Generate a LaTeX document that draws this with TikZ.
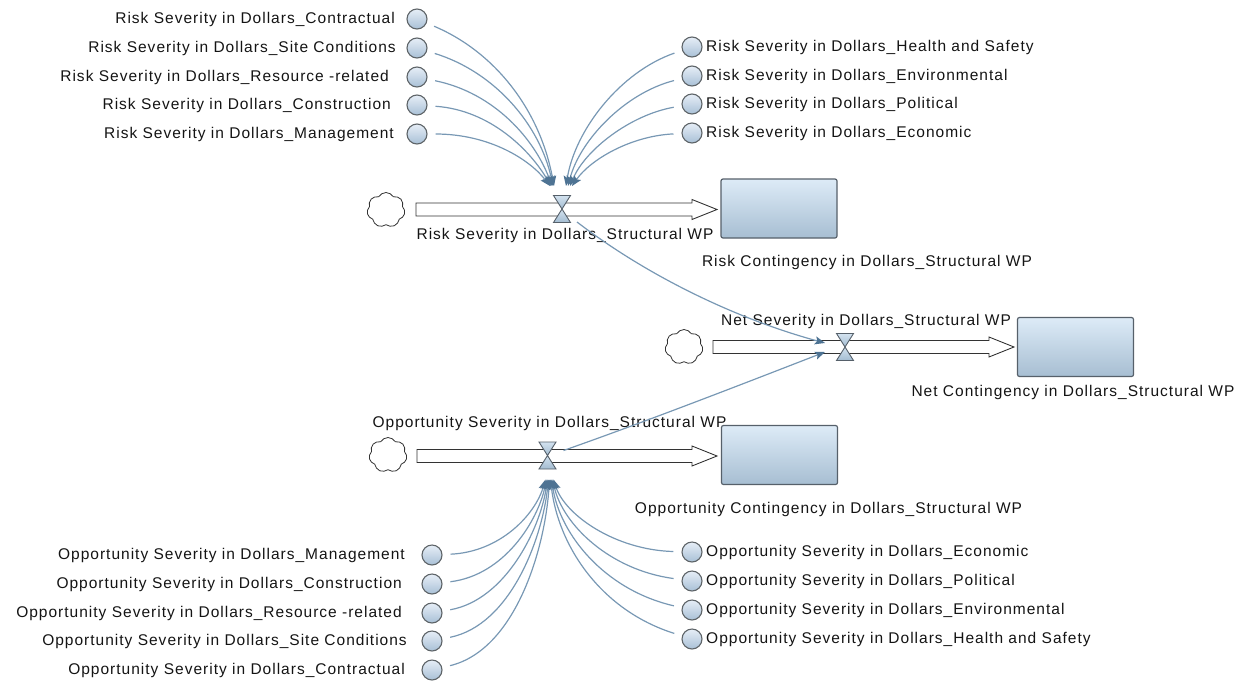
\documentclass[tikz,border=0pt]{standalone}
\usepackage{fontspec}
\setmainfont{Liberation Sans}[LetterSpace=6.5]
\usetikzlibrary{shapes.symbols,arrows.meta,calc}

\definecolor{linkc}{HTML}{7898B4}
\definecolor{tipc}{HTML}{4E7393}
\definecolor{auxtop}{HTML}{E6EEF7}
\definecolor{auxbot}{HTML}{A9C0D6}
\definecolor{auxrim}{HTML}{5E6468}
\definecolor{stocktop}{HTML}{DDEBF7}
\definecolor{stockbot}{HTML}{A7BED2}
\definecolor{rim}{HTML}{56606A}
\definecolor{valvetop}{HTML}{D3E2EF}
\definecolor{valvebot}{HTML}{A3BCD1}

\tikzset{
  aux/.style={circle, draw=auxrim, line width=1.1pt, top color=auxtop, bottom color=auxbot,
              minimum size=20pt, inner sep=0pt},
  lbl/.style={inner sep=0pt, font=\fontsize{15.5}{18}\selectfont, text=black!92},
  stock/.style={rectangle, rounded corners=2pt, draw=rim, line width=1.2pt,
                top color=stocktop, bottom color=stockbot, inner sep=0pt,
                minimum width=116pt, minimum height=59pt},
  source/.style={cloud, cloud puffs=7, cloud puff arc=120, aspect=1.1, draw=black!80,
                 line width=0.8pt, fill=white, minimum width=38pt, minimum height=35pt, inner sep=0pt},
  pipe/.style={draw=black!80, line width=0.9pt, fill=white},
  valve/.style={draw=rim, line width=0.9pt, top color=valvetop, bottom color=valvebot},
  link/.style={draw=linkc, line width=1.2pt, shorten <=8pt,
               -{Stealth[length=10pt,width=8pt,inset=2pt,color=tipc]}},
  netlink/.style={draw=linkc, line width=1.2pt,
               -{Stealth[length=10pt,width=8pt,inset=2pt,color=tipc]}}
}

% flow pipe from a source point to an arrow tip
\newcommand\flowpipe[2]{%
  \draw[pipe] ($(#1)+(0,-6.5)$) -- ($(#2)+(-25,-6.5)$) -- ($(#2)+(-25,-10)$) -- (#2)
    -- ($(#2)+(-25,10)$) -- ($(#2)+(-25,6.5)$) -- ($(#1)+(0,6.5)$) -- cycle;}
% hourglass valve centred on a coordinate
\newcommand\valveat[1]{%
  \draw[valve] ($(#1)+(-8.5,-13.5)$) -- ($(#1)+(8.5,-13.5)$) -- (#1) -- cycle;
  \draw[valve] (#1) -- ($(#1)+(8.5,13.5)$) -- ($(#1)+(-8.5,13.5)$) -- cycle;}

\begin{document}
\begin{tikzpicture}[x=1pt,y=-1pt]
\useasboundingbox (0,0) rectangle (1247,686);

% ---------- risk flow ----------
\node[source] (rc) at (386,210) {};
\coordinate (rps) at (416,209.5);
\coordinate (rpe) at (717,209.5);
\flowpipe{rps}{rpe}
\coordinate (rv) at (562,209);
\valveat{rv}
\node[stock] (rs) at (779,208.5) {};
\node[lbl] (rfl) at (565,235) {Risk Severity in Dollars\_Structural WP};
\node[lbl] (rsl) at (867,262) {Risk Contingency in Dollars\_Structural WP};

% ---------- net flow ----------
\node[source] (nc) at (684,347) {};
\coordinate (nps) at (713,347);
\coordinate (npe) at (1014,347);
\flowpipe{nps}{npe}
\coordinate (nv) at (845,347);
\valveat{nv}
\node[stock] (ns) at (1075.5,347) {};
\node[lbl] (nfl) at (866,321) {Net Severity in Dollars\_Structural WP};
\node[lbl] (nsl) at (1073,392) {Net Contingency in Dollars\_Structural WP};

% ---------- opportunity flow ----------
\node[source] (oc) at (388,455) {};
\coordinate (ops) at (417,456);
\coordinate (ope) at (717,456);
\flowpipe{ops}{ope}
\coordinate (ov) at (547.5,455.5);
\valveat{ov}
\node[stock] (os) at (779.5,455) {};
\node[lbl] (ofl) at (549.5,423) {Opportunity Severity in Dollars\_Structural WP};
\node[lbl] (osl) at (828.5,509) {Opportunity Contingency in Dollars\_Structural WP};

% ---------- risk auxiliaries ----------
\node[aux] (ra1) at (417,19) {};
\node[aux] (ra2) at (417,48) {};
\node[aux] (ra3) at (417,77) {};
\node[aux] (ra4) at (417,105) {};
\node[aux] (ra5) at (417,134) {};
\node[lbl, anchor=east] (ral1) at (395,19) {Risk Severity in Dollars\_Contractual};
\node[lbl, anchor=east] (ral2) at (396,48) {Risk Severity in Dollars\_Site Conditions};
\node[lbl, anchor=east] (ral3) at (389,77) {Risk Severity in Dollars\_Resource -related};
\node[lbl, anchor=east] (ral4) at (391,105) {Risk Severity in Dollars\_Construction};
\node[lbl, anchor=east] (ral5) at (394,134) {Risk Severity in Dollars\_Management};

\node[aux] (rb1) at (692,47) {};
\node[aux] (rb2) at (692,76) {};
\node[aux] (rb3) at (692,104) {};
\node[aux] (rb4) at (692,133) {};
\node[lbl, anchor=west] (rbl1) at (706,47) {Risk Severity in Dollars\_Health and Safety};
\node[lbl, anchor=west] (rbl2) at (706,76) {Risk Severity in Dollars\_Environmental};
\node[lbl, anchor=west] (rbl3) at (706,104) {Risk Severity in Dollars\_Political};
\node[lbl, anchor=west] (rbl4) at (706,133) {Risk Severity in Dollars\_Economic};

% ---------- opportunity auxiliaries ----------
\node[aux] (oa1) at (432,555) {};
\node[aux] (oa2) at (432,584) {};
\node[aux] (oa3) at (432,613) {};
\node[aux] (oa4) at (432,641) {};
\node[aux] (oa5) at (432,670) {};
\node[lbl, anchor=east] (oal1) at (405,555) {Opportunity Severity in Dollars\_Management};
\node[lbl, anchor=east] (oal2) at (402,584) {Opportunity Severity in Dollars\_Construction};
\node[lbl, anchor=east] (oal3) at (402,613) {Opportunity Severity in Dollars\_Resource -related};
\node[lbl, anchor=east] (oal4) at (407,641) {Opportunity Severity in Dollars\_Site Conditions};
\node[lbl, anchor=east] (oal5) at (405,670) {Opportunity Severity in Dollars\_Contractual};

\node[aux] (ob1) at (692,552) {};
\node[aux] (ob2) at (692,581) {};
\node[aux] (ob3) at (692,610) {};
\node[aux] (ob4) at (692,639) {};
\node[lbl, anchor=west] (obl1) at (706,552) {Opportunity Severity in Dollars\_Economic};
\node[lbl, anchor=west] (obl2) at (706,581) {Opportunity Severity in Dollars\_Political};
\node[lbl, anchor=west] (obl3) at (706,610) {Opportunity Severity in Dollars\_Environmental};
\node[lbl, anchor=west] (obl4) at (706,639) {Opportunity Severity in Dollars\_Health and Safety};

% ---------- links into the risk valve ----------
\draw[link] (ra1) .. controls (495,52) and (540,110) .. ($(rv)+(-8,-23)$);
\draw[link] (ra2) .. controls (495,72) and (540,125) .. ($(rv)+(-9,-23)$);
\draw[link] (ra3) .. controls (495,93) and (535,140) .. ($(rv)+(-10,-23)$);
\draw[link] (ra4) .. controls (490,110) and (530,150) .. ($(rv)+(-11,-23)$);
\draw[link] (ra5) .. controls (490,134) and (530,160) .. ($(rv)+(-12,-23)$);
\draw[link] (rb1) .. controls (620,72) and (575,130) .. ($(rv)+(4,-23)$);
\draw[link] (rb2) .. controls (625,93) and (580,140) .. ($(rv)+(6,-23)$);
\draw[link] (rb3) .. controls (630,115) and (585,150) .. ($(rv)+(8,-23)$);
\draw[link] (rb4) .. controls (630,136) and (590,160) .. ($(rv)+(10,-23)$);

% ---------- links into the opportunity valve ----------
\draw[link] (oa1) .. controls (500,552) and (535,515) .. ($(ov)+(-2,24)$);
\draw[link] (oa2) .. controls (505,575) and (538,520) .. ($(ov)+(-1,24)$);
\draw[link] (oa3) .. controls (505,600) and (540,530) .. ($(ov)+(0,24)$);
\draw[link] (oa4) .. controls (510,625) and (542,540) .. ($(ov)+(1,24)$);
\draw[link] (oa5) .. controls (515,650) and (545,550) .. ($(ov)+(2,24)$);
\draw[link] (ob1) .. controls (615,550) and (565,515) .. ($(ov)+(6,24)$);
\draw[link] (ob2) .. controls (610,570) and (563,525) .. ($(ov)+(5,24)$);
\draw[link] (ob3) .. controls (605,590) and (560,535) .. ($(ov)+(4,24)$);
\draw[link] (ob4) .. controls (600,610) and (558,545) .. ($(ov)+(3,24)$);

% ---------- links into the net valve ----------
\draw[netlink] ($(rv)+(15,13)$) .. controls (650,278) and (740,320) .. ($(nv)+(-20,-4)$);
\draw[netlink] ($(ov)+(16,-5)$) .. controls (650,420) and (740,385) .. ($(nv)+(-20,5)$);
\end{tikzpicture}
\end{document}
